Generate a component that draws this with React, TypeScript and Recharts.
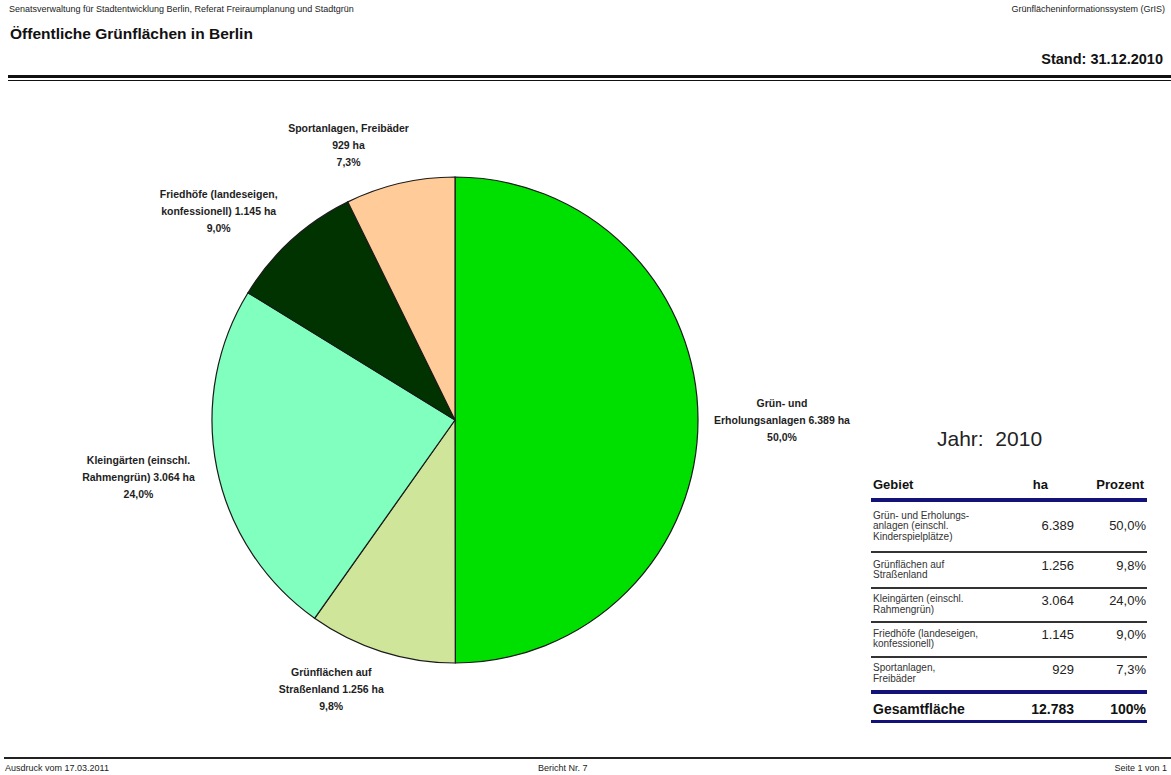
import React from 'react';
import { PieChart, Pie, Cell } from 'recharts';

// Öffentliche Grünflächen in Berlin, Stand 31.12.2010
const categories = [
  'Grün- und Erholungsanlagen',
  'Grünflächen auf Straßenland',
  'Kleingärten (einschl. Rahmengrün)',
  'Friedhöfe (landeseigen, konfessionell)',
  'Sportanlagen, Freibäder',
];
const labelNames = [
  ['Grün- und', 'Erholungsanlagen'],
  ['Grünflächen auf', 'Straßenland'],
  ['Kleingärten (einschl.', 'Rahmengrün)'],
  ['Friedhöfe (landeseigen,', 'konfessionell)'],
  ['Sportanlagen, Freibäder'],
];
const tableNames = [
  ['Grün- und Erholungs-', 'anlagen (einschl.', 'Kinderspielplätze)'],
  ['Grünflächen auf', 'Straßenland'],
  ['Kleingärten (einschl.', 'Rahmengrün)'],
  ['Friedhöfe (landeseigen,', 'konfessionell)'],
  ['Sportanlagen,', 'Freibäder'],
];
const hectares = [6389, 1256, 3064, 1145, 929];
const percents = [50.0, 9.8, 24.0, 9.0, 7.3];
const totalHa = 12783;
const colors = ['#00E000', '#CEE59A', '#80FFBE', '#003300', '#FFCC99'];

const fmtHa = (v: number) => String(v).replace(/\B(?=(\d{3})+(?!\d))/g, '.');
const fmtPct = (v: number) => v.toFixed(1).replace('.', ',') + '%';

const chartData = categories.map((name, i) => ({ name, value: hectares[i] }));

const LABEL_FONT = "'Liberation Sans', Arial, sans-serif";
const NARROW = "'Liberation Sans Narrow', 'Liberation Sans', Arial, sans-serif";

// label box placed just outside the slice, pushed away along the mid angle
const renderLabel = (props: any) => {
  const { cx, cy, midAngle, outerRadius, index } = props;
  const rad = (midAngle * Math.PI) / 180;
  const ux = Math.cos(rad);
  const uy = -Math.sin(rad);
  const names = labelNames[index];
  const ha = fmtHa(hectares[index]) + ' ha';
  const lines =
    names.length === 1
      ? [names[0], ha, fmtPct(percents[index])]
      : [names[0], names[1] + ' ' + ha, fmtPct(percents[index])];
  const lh = 17;
  const h = lines.length * lh;
  const w = Math.min(140, Math.max(...lines.map((l) => l.length)) * 6.2);
  const s = (v: number) => Math.sign(v) * Math.pow(Math.abs(v), 0.25);
  const r = outerRadius + 14;
  const lx = cx + r * ux + (w / 2) * s(ux);
  const ly = cy + r * uy + (h / 2) * uy;
  return (
    <text
      key={'lbl' + index}
      x={lx}
      y={ly - h / 2}
      textAnchor="middle"
      fontFamily={LABEL_FONT}
      fontSize={10.5}
      fontWeight="bold"
      fill="#1e1e1e"
    >
      {lines.map((l, i) => (
        <tspan key={i} x={lx} y={ly - h / 2 + lh * (i + 0.5) + 4}>
          {l}
        </tspan>
      ))}
    </text>
  );
};

const abs = (style: React.CSSProperties): React.CSSProperties => ({ position: 'absolute', ...style });

export default function App() {
  const rowTops = [502, 553, 588, 622, 657];
  const rowBottoms = [551, 587, 621, 656, 690];

  return (
    <div style={abs({ left: 0, top: 0, width: 1171, height: 775, background: '#fff', overflow: 'hidden' })}>
      {/* header */}
      <div style={abs({ left: 9, top: 4, fontFamily: NARROW, fontSize: 9, color: '#222', whiteSpace: 'nowrap' })}>
        Senatsverwaltung für Stadtentwicklung Berlin, Referat Freiraumplanung und Stadtgrün
      </div>
      <div style={abs({ right: 6, top: 4, fontFamily: NARROW, fontSize: 9, color: '#222', whiteSpace: 'nowrap' })}>
        Grünflächeninformationssystem (GrIS)
      </div>
      <div style={abs({ left: 10, top: 25, fontFamily: LABEL_FONT, fontSize: 15.5, fontWeight: 'bold', color: '#111', whiteSpace: 'nowrap' })}>
        Öffentliche Grünflächen in Berlin
      </div>
      <div style={abs({ right: 8, top: 51, fontFamily: LABEL_FONT, fontSize: 14.5, fontWeight: 'bold', color: '#111', whiteSpace: 'nowrap' })}>
        Stand: 31.12.2010
      </div>
      <div style={abs({ left: 8, right: 0, top: 75, height: 3, background: '#111' })} />
      <div style={abs({ left: 8, right: 0, top: 80, height: 1, background: '#111' })} />

      {/* pie */}
      <div style={abs({ left: 0, top: 0 })}>
        <PieChart width={1171} height={775} margin={{ top: 0, right: 0, bottom: 0, left: 0 }}>
          <Pie
            data={chartData}
            dataKey="value"
            nameKey="name"
            cx={455}
            cy={420}
            outerRadius={243}
            startAngle={90}
            endAngle={-270}
            stroke="#1a1a1a"
            strokeWidth={1.2}
            label={renderLabel}
            labelLine={false}
            isAnimationActive={false}
          >
            {chartData.map((d, i) => (
              <Cell key={d.name} fill={colors[i]} />
            ))}
          </Pie>
        </PieChart>
      </div>

      {/* table */}
      <div style={abs({ left: 937, top: 427, fontFamily: LABEL_FONT, fontSize: 21, color: '#222', whiteSpace: 'pre' })}>
        {'Jahr:  2010'}
      </div>
      <div style={abs({ left: 873, top: 477, fontFamily: LABEL_FONT, fontSize: 13, fontWeight: 'bold', color: '#111' })}>Gebiet</div>
      <div style={abs({ right: 1171 - 1048, top: 477, fontFamily: LABEL_FONT, fontSize: 13, fontWeight: 'bold', color: '#111' })}>ha</div>
      <div style={abs({ right: 1171 - 1144, top: 477, fontFamily: LABEL_FONT, fontSize: 13, fontWeight: 'bold', color: '#111' })}>Prozent</div>
      <div style={abs({ left: 871, width: 276, top: 498, height: 4, background: '#12127a' })} />

      {tableNames.map((lines, i) => {
        const valTop = (rowTops[i] + rowBottoms[i]) / 2 - 8 - (10 - 3 * lines.length);
        return (
          <React.Fragment key={categories[i]}>
            <div
              style={abs({
                left: 873,
                top: rowTops[i],
                height: rowBottoms[i] - rowTops[i],
                display: 'flex',
                flexDirection: 'column',
                justifyContent: 'center',
                fontFamily: LABEL_FONT,
                fontSize: 10,
                lineHeight: '10.5px',
                color: '#333',
              })}
            >
              {lines.map((l) => (
                <div key={l} style={{ whiteSpace: 'nowrap' }}>{l}</div>
              ))}
            </div>
            <div style={abs({ right: 1171 - 1074, top: valTop, fontFamily: LABEL_FONT, fontSize: 13, color: '#222' })}>
              {fmtHa(hectares[i])}
            </div>
            <div style={abs({ right: 1171 - 1146, top: valTop, fontFamily: LABEL_FONT, fontSize: 13, color: '#222' })}>
              {fmtPct(percents[i])}
            </div>
            {i < tableNames.length - 1 && (
              <div style={abs({ left: 871, width: 276, top: rowBottoms[i], height: 1.5, background: '#333' })} />
            )}
          </React.Fragment>
        );
      })}
      <div style={abs({ left: 871, width: 276, top: 690, height: 4, background: '#12127a' })} />
      <div style={abs({ left: 873, top: 701, fontFamily: LABEL_FONT, fontSize: 14, fontWeight: 'bold', color: '#111' })}>Gesamtfläche</div>
      <div style={abs({ right: 1171 - 1074, top: 701, fontFamily: LABEL_FONT, fontSize: 14, fontWeight: 'bold', color: '#111' })}>
        {fmtHa(totalHa)}
      </div>
      <div style={abs({ right: 1171 - 1146, top: 701, fontFamily: LABEL_FONT, fontSize: 14, fontWeight: 'bold', color: '#111' })}>100%</div>
      <div style={abs({ left: 871, width: 276, top: 720, height: 3, background: '#12127a' })} />

      {/* footer */}
      <div style={abs({ left: 4, right: 0, top: 757, height: 2, background: '#222' })} />
      <div style={abs({ left: 5, top: 763, fontFamily: NARROW, fontSize: 9, color: '#222', whiteSpace: 'nowrap' })}>Ausdruck vom 17.03.2011</div>
      <div style={abs({ left: 538, top: 763, fontFamily: NARROW, fontSize: 9, color: '#222', whiteSpace: 'nowrap' })}>Bericht Nr. 7</div>
      <div style={abs({ right: 4, top: 763, fontFamily: NARROW, fontSize: 9, color: '#222', whiteSpace: 'nowrap' })}>Seite 1 von 1</div>
    </div>
  );
}
